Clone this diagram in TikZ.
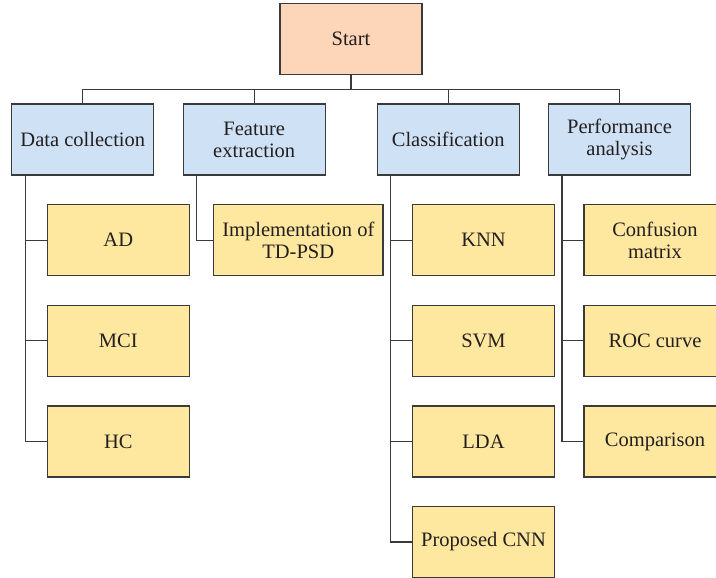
\documentclass[tikz,border=0pt]{standalone}
\usepackage{fontspec}
\setmainfont{Liberation Serif}
\definecolor{startfill}{HTML}{FDD5B8}
\definecolor{bluefill}{HTML}{CFE2F5}
\definecolor{yellowfill}{HTML}{FEE79E}
\definecolor{edge}{HTML}{3A3A3A}
\definecolor{txt}{HTML}{231F20}
\begin{document}
\begin{tikzpicture}[x=1pt,y=-1pt,
  box/.style={draw=edge, line width=1.2pt, minimum width=142pt, minimum height=71pt,
    inner sep=2pt, align=center, text=txt, font=\fontsize{20.5}{22}\selectfont},
  startbox/.style={box, fill=startfill},
  bluebox/.style={box, fill=bluefill},
  ybox/.style={box, fill=yellowfill},
  conn/.style={draw=edge, line width=1.2pt}]
\useasboundingbox (0,0) rectangle (716,578);
\clip (0,0) rectangle (716,578);
\fill[white] (0,0) rectangle (716,578);
% nodes
\node[startbox] (start) at (351,38.7) {Start};
\node[bluebox] (dc) at (82.8,139.5) {Data collection};
\node[bluebox] (fe) at (254.2,139.5) {Feature\\extraction};
\node[bluebox] (cl) at (448.2,139.5) {Classification};
\node[bluebox] (pa) at (619.5,139.5) {Performance\\analysis};
\node[ybox] (ad) at (118.3,240.2) {AD};
\node[ybox] (mci) at (118.3,340.7) {MCI};
\node[ybox] (hc) at (118.3,441.5) {HC};
\node[ybox, minimum width=169.3pt] (impl) at (298.3,240.2) {Implementation of\\TD-PSD};
\node[ybox] (knn) at (483.5,240.2) {KNN};
\node[ybox] (svm) at (483.5,340.7) {SVM};
\node[ybox] (lda) at (483.5,441.5) {LDA};
\node[ybox] (cnn) at (483.5,542) {Proposed CNN};
\node[ybox] (conf) at (655,240.2) {Confusion\\matrix};
\node[ybox] (roc) at (655,340.7) {ROC curve};
\node[ybox] (comp) at (655,441.5) {Comparison};
% bus
\coordinate (bus) at (351,89.5);
\draw[conn] (start.south) -- (bus);
\draw[conn] (dc.north) -- (dc.north |- bus) -- (pa.north |- bus) -- (pa.north);
\draw[conn] (fe.north) -- (fe.north |- bus);
\draw[conn] (cl.north) -- (cl.north |- bus);
% children
\foreach \p/\c in {dc/ad, dc/mci, dc/hc, fe/impl, cl/knn, cl/svm, cl/lda, cl/cnn, pa/conf, pa/roc, pa/comp}
  \draw[conn] ([xshift=14pt]\p.south west) |- (\c.west);
\end{tikzpicture}
\end{document}
